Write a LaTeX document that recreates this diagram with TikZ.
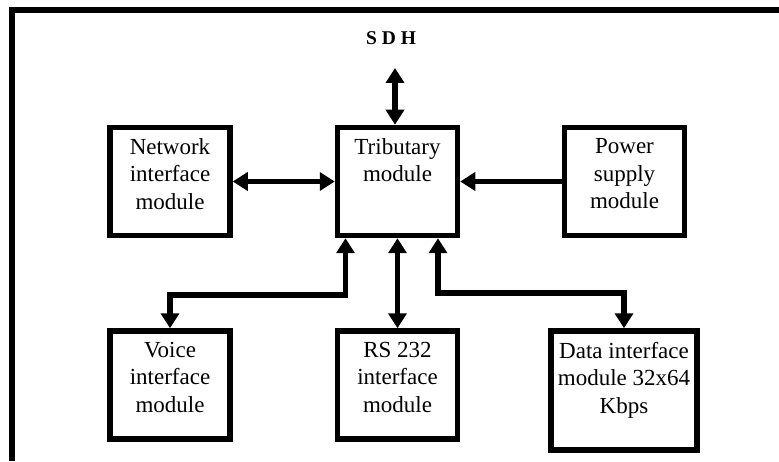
\documentclass[tikz,border=0pt]{standalone}
\usepackage{fontspec}
\setmainfont{Liberation Serif}
\usepackage{tikz}
\tikzstyle{module} = [draw, line width=5.5pt, inner sep=0pt,
    minimum width=120pt, minimum height=108pt]
\tikzstyle{modtext} = [anchor=north, inner sep=0pt, yshift=-13.5pt,
    align=center, font=\fontsize{23}{27.5}\selectfont]
\tikzstyle{link} = [line width=5.5pt]
\usetikzlibrary{arrows.meta}
\tikzset{>={Triangle[length=15pt,width=18pt]}}

\begin{document}
\begin{tikzpicture}[x=1pt,y=1pt]
    \useasboundingbox (0,0) rectangle (779,461);
    %frame
    \draw[line width=6pt] (12,0) -- (12,451) -- (779,451);
    %upper row
    \node[module,label={[name=nettext,modtext]north:Network\\interface\\module}] (net) at (170,279.5) {};
    \node[module,label={[name=tribtext,modtext]north:Tributary\\module}] (trib) at (397.5,279.5) {};
    \node[module,label={[name=powtext,modtext]north:Power\\supply\\module}] (pow) at (624.5,279.5) {};
    %lower row
    \node[module,label={[name=voicetext,modtext]north:Voice\\interface\\module}] (voice) at (170,76) {};
    \node[module,label={[name=rstext,modtext]north:RS 232\\interface\\module}] (rs) at (397.5,76) {};
    \node[module,minimum width=146pt,minimum height=119pt,
        label={[name=datatext,modtext]north:Data interface\\module 32x64\\Kbps}] (data) at (624,70.5) {};
    %sdh
    \node[font=\bfseries\fontsize{19.5}{20}\selectfont] (sdh) at (391,422.5) {S D H};
    \coordinate (sdhport) at (395,393);
    \draw[link,<->] (sdhport) -- (sdhport |- trib.north);
    %links
    \draw[link,<->] (net.east) -- (trib.west);
    \draw[link,->] (pow.west) -- (trib.east);
    \coordinate (vbend) at (345.5,166);
    \coordinate (dbend) at (438,168);
    \draw[link,<->] (trib.south -| vbend) -- (vbend) -| (voice.north);
    \draw[link,<->] (trib.south -| rs.north) -- (rs.north);
    \draw[link,<->] (trib.south -| dbend) -- (dbend) -| (data.north);
\end{tikzpicture}
\end{document}
